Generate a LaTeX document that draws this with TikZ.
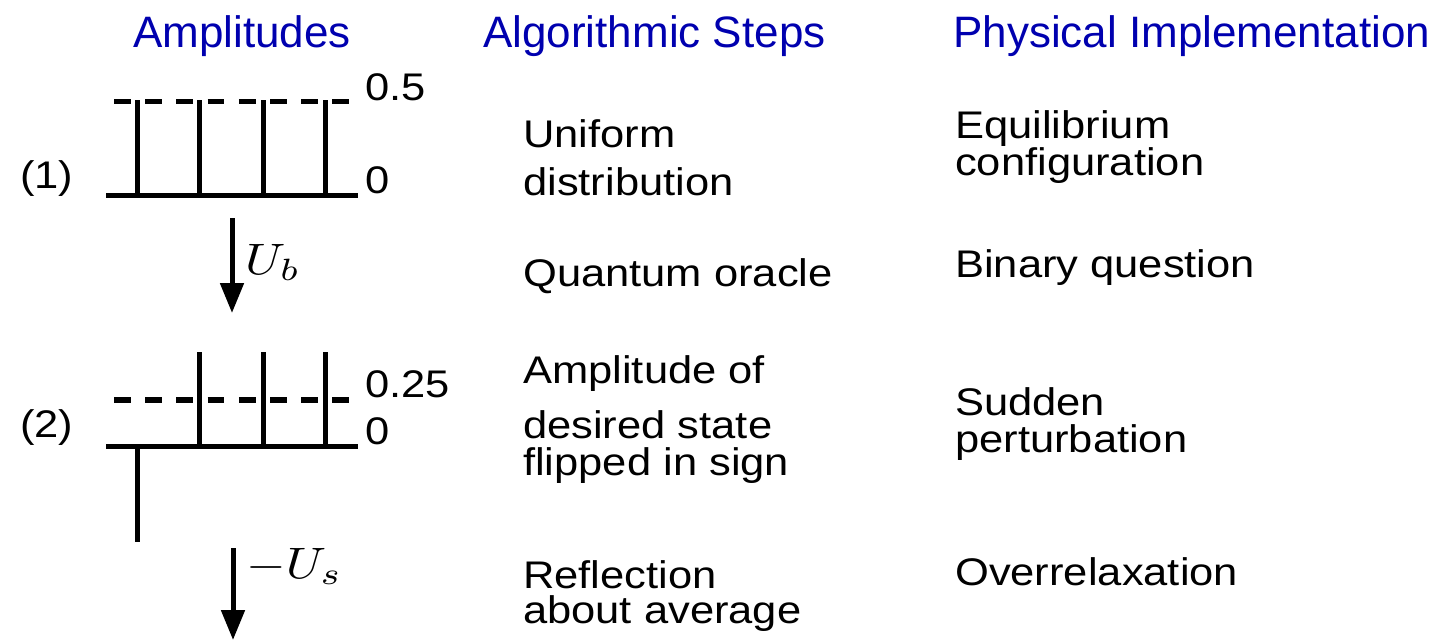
\documentclass[tikz,border=0pt]{standalone}
\usepackage{fontspec}
\usepackage{graphicx}
\setmainfont{Liberation Sans}[FakeStretch=1.13]
\newfontfamily\hdfont{Liberation Sans}
\usetikzlibrary{arrows.meta}
\definecolor{hdblue}{RGB}{0,0,175}
\tikzset{
  hd/.style={anchor=base west,inner sep=0pt,text=hdblue,font=\hdfont\fontsize{44}{50}\selectfont},
  txt/.style={anchor=base west,inner sep=0pt,font=\fontsize{38.5}{45}\selectfont},
  bar/.style={line width=5pt,line cap=butt},
  axisline/.style={line width=5.5pt,line cap=butt},
  dashline/.style={line width=5.5pt,dash pattern=on 16.7pt off 14.5pt},
  flow/.style={line width=5pt,-{Triangle[length=30pt,width=23pt]}},
  mlab/.style={anchor=base west,inner sep=0pt}
}
\begin{document}
\begin{tikzpicture}[x=1pt,y=-1pt]
\useasboundingbox (0,0) rectangle (1433,641);
% headers
\node[hd] (h1) at (133,47) {Amplitudes};
\node[hd] (h2) at (483,47) {Algorithmic Steps};
\node[hd] (h3) at (953,47) {Physical Implementation};
% chart 1
\draw[dashline] (114,101.5) -- (350,101.5);
\foreach \x in {137,199,263,325} \draw[bar] (\x,100) -- (\x,196);
\draw[axisline] (106,195.5) -- (358,195.5);
\node[txt] (c1a) at (365,100) {0.5};
\node[txt] (c1b) at (365,193) {0};
\node[txt] (n1) at (20,188) {(1)};
% arrow 1
\coordinate (a1s) at (232,218);
\coordinate (a1e) at (232,313);
\draw[flow] (a1s) -- (a1e);
\node[mlab] (ub) at (245,274) {\scalebox{5.1}[4.4]{$U_b$}};
% chart 2
\draw[dashline] (114,400) -- (350,400);
\foreach \x in {199,263,325} \draw[bar] (\x,352) -- (\x,447);
\draw[bar] (137,447) -- (137,542);
\draw[axisline] (106,446.7) -- (358,446.7);
\node[txt] (c2a) at (365,397) {0.25};
\node[txt] (c2b) at (365,444) {0};
\node[txt] (n2) at (20,437) {(2)};
% arrow 2
\coordinate (a2s) at (233,548);
\coordinate (a2e) at (233,640);
\draw[flow] (a2s) -- (a2e);
\node[mlab] (us) at (246,578) {\scalebox{5.1}[4.4]{$-U_s$}};
% middle column
\node[txt] (m1) at (523,147) {Uniform};
\node[txt] (m2) at (523,195) {distribution};
\node[txt] (m3) at (523,286) {Quantum oracle};
\node[txt] (m4) at (523,383) {Amplitude of};
\node[txt] (m5) at (523,438) {desired state};
\node[txt] (m6) at (523,475) {flipped in sign};
\node[txt] (m7) at (523,588) {Reflection};
\node[txt] (m8) at (523,623) {about average};
% right column
\node[txt] (r1) at (955,138) {Equilibrium};
\node[txt] (r2) at (955,175) {configuration};
\node[txt] (r3) at (955,277) {Binary question};
\node[txt] (r4) at (955,415) {Sudden};
\node[txt] (r5) at (955,452) {perturbation};
\node[txt] (r6) at (955,585) {Overrelaxation};
\end{tikzpicture}
\end{document}
